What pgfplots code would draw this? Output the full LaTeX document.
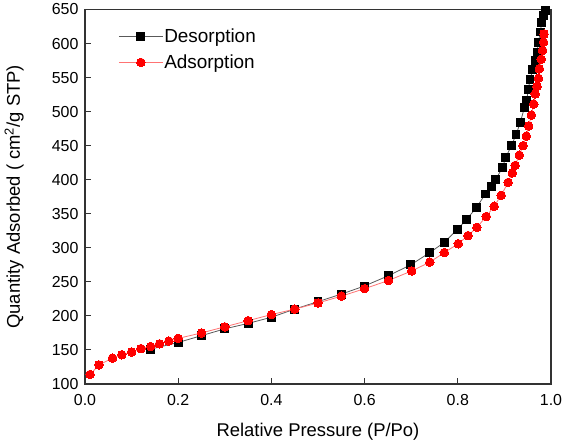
\documentclass[border=0pt]{standalone}
\usepackage{pgfplots}
\pgfplotsset{compat=1.18}
\usepackage{fontspec}
\setmainfont{Liberation Sans}
\begin{document}
\begin{tikzpicture}
\useasboundingbox (-85bp,-61bp) rectangle (481bp,384bp);
\begin{axis}[
  scale only axis,
  width=466bp, height=374.5bp,
  xmin=0, xmax=1, ymin=100, ymax=650,
  xtick={0,0.2,0.4,0.6,0.8,1.0},
  ytick={100,150,...,650},
  /pgf/number format/assume math mode=true,
  tick label style={font=\fontsize{16}{18}\selectfont},
  xticklabel style={yshift=-7bp, /pgf/number format/fixed, /pgf/number format/fixed zerofill, /pgf/number format/precision=1},
  yticklabel style={xshift=-3bp},
  label style={font=\fontsize{18.5}{21}\selectfont},
  tick align=inside,
  xtick pos=bottom, ytick pos=left,
  major tick length=6bp,
  minor tick num=0,
  axis line style={line width=1.2pt, black!80},
  every tick/.style={black!80, line width=1pt},
  xlabel={Relative Pressure (P/Po)},
  ylabel={Quantity Adsorbed ( cm\textsuperscript{2}/g STP)},
  x label style={at={(axis description cs:0.5,-0.128)}, anchor=center},
  y label style={at={(axis description cs:-0.152,0.5)}, anchor=center},
  legend style={draw=none, fill=none, at={(axis description cs:0.065,0.96)}, anchor=north west,
    font=\fontsize{19}{22}\selectfont, row sep=7bp,
    /tikz/every even column/.append style={column sep=0pt},
    nodes={inner xsep=1bp}},
  legend cell align=left,
  legend image code/.code={
    \draw[mark repeat=2,mark phase=2] plot coordinates {(0bp,0bp) (22bp,0bp) (44bp,0bp)};
  },
]
\addplot[black!65, line width=0.8pt, mark=square*, mark size=3.9bp,
  mark options={fill=black, draw=black, line width=0pt}] table {
x y
0.140 151
0.200 161
0.250 171
0.300 181
0.350 189
0.400 198
0.450 210
0.500 221
0.550 232
0.600 244
0.651 259
0.699 275
0.740 293
0.771 308
0.799 327
0.819 342
0.840 359
0.859 379
0.872 390
0.881 400
0.896 418
0.903 433
0.915 450
0.925 466
0.934 484
0.943 506
0.948 517
0.951 532
0.955 547
0.961 562
0.966 575
0.970 587
0.973 602
0.977 617
0.980 631
0.984 641
0.988 649
};
\addlegendentry{Desorption}
\addplot[red!55, line width=0.8pt, mark=*, mark size=4.3bp,
  mark options={fill=red, draw=red, line width=0pt}] table {
x y
0.011 114
0.030 128
0.059 138
0.079 143
0.100 147
0.120 152
0.141 155
0.160 159
0.180 163
0.200 167
0.250 175
0.300 184
0.350 193
0.400 202
0.450 210
0.500 219
0.550 229
0.600 240
0.651 252
0.701 266
0.740 279
0.771 293
0.801 306
0.822 318
0.841 330
0.861 346
0.878 361
0.893 377
0.908 396
0.917 410
0.923 421
0.932 436
0.940 450
0.947 464
0.952 479
0.958 495
0.963 511
0.966 526
0.970 537
0.973 549
0.975 563
0.979 577
0.982 590
0.984 602
0.985 614
};
\addlegendentry{Adsorption}
\end{axis}
\end{tikzpicture}
\end{document}
